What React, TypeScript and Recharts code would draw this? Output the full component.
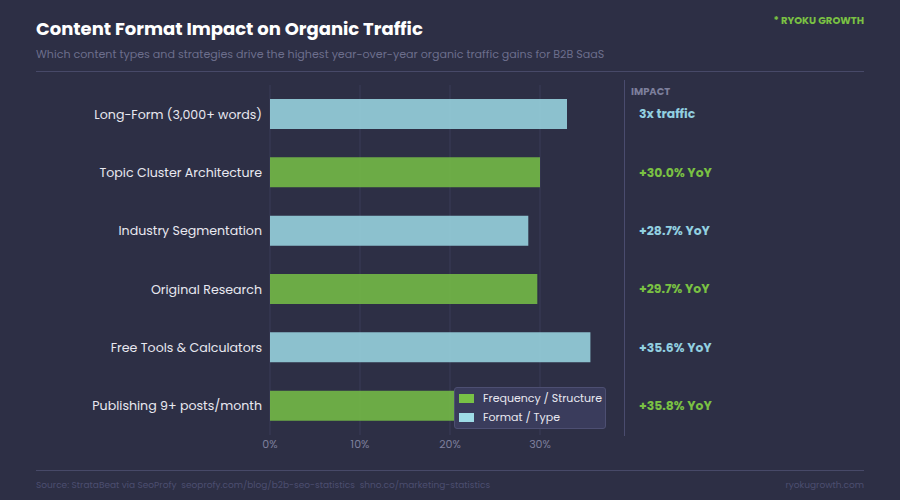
import { BarChart, Bar, XAxis, YAxis, CartesianGrid, Cell } from "recharts";

const categories = [
  "Long-Form (3,000+ words)",
  "Topic Cluster Architecture",
  "Industry Segmentation",
  "Original Research",
  "Free Tools & Calculators",
  "Publishing 9+ posts/month",
];
const trafficGain = [33, 30.0, 28.7, 29.7, 35.6, 35.8];
const groups = ["format", "freq", "format", "freq", "format", "freq"];
const impactLabels = ["3x traffic", "+30.0% YoY", "+28.7% YoY", "+29.7% YoY", "+35.6% YoY", "+35.8% YoY"];
const xTicks = [0, 10, 20, 30];
const xMax = 38;

const FONT = "Poppins, 'Open Sans', sans-serif";
const BG = "#2d2f45";
const GREEN = "#78c146";
const BLUE = "#9edbe6";
const groupColor: Record<string, string> = { freq: GREEN, format: BLUE };
const legendItems = [
  { label: "Frequency / Structure", color: GREEN },
  { label: "Format / Type", color: BLUE },
];

const data = categories.map((name, i) => ({
  name,
  value: trafficGain[i],
  group: groups[i],
  impact: impactLabels[i],
}));

function ImpactTick(props: any) {
  const { y, payload, index } = props;
  const row = data[index] ?? data.find((d) => d.name === payload.value);
  return (
    <text x={639} y={y} dy={4} fill={row.group === "freq" ? "#7ac143" : "#92d0e0"} fontSize={12.4} fontWeight={700} fontFamily={FONT}>
      {row.impact}
    </text>
  );
}

// only draw grid lines at the labelled ticks (no line at the domain end)
function gridX(props: any) {
  const scale = props?.xAxis?.scale;
  const off = props?.offset ?? {};
  return xTicks.map((t) => {
    if (typeof scale === "function") return scale(t);
    if (scale && typeof scale.map === "function") return scale.map(t);
    return (off.left ?? 0) + (t / xMax) * (off.width ?? 0);
  });
}

export default function App() {
  return (
    <div style={{ position: "absolute", left: 0, top: 0, width: 900, height: 500, background: BG, fontFamily: FONT, overflow: "hidden" }}>
      <div style={{ position: "absolute", left: 36, top: 15, fontSize: 18, fontWeight: 700, color: "#ffffff" }}>
        Content Format Impact on Organic Traffic
      </div>
      <div style={{ position: "absolute", left: 36, top: 46, fontSize: 11.1, color: "#6c6e8c" }}>
        Which content types and strategies drive the highest year-over-year organic traffic gains for B2B SaaS
      </div>
      <div style={{ position: "absolute", right: 36, top: 13, fontSize: 10, fontWeight: 700, color: "#7ac143" }}>
        * RYOKU GROWTH
      </div>
      <div style={{ position: "absolute", left: 36, top: 71, width: 828, height: 1, background: "#474968" }} />

      <BarChart
        width={900}
        height={500}
        data={data}
        layout="vertical"
        margin={{ top: 85, right: 258, left: 0, bottom: 35 }}
        style={{ position: "absolute", left: 0, top: 0 }}
      >
        <CartesianGrid horizontal={false} stroke="#3b3d58" verticalCoordinatesGenerator={gridX} />
        <XAxis
          type="number"
          domain={[0, xMax]}
          ticks={xTicks}
          tickFormatter={(v) => `${v}%`}
          axisLine={false}
          tickLine={false}
          tickSize={0}
          tickMargin={5}
          height={30}
          tick={{ fill: "#7d7f9c", fontSize: 11, fontFamily: FONT }}
        />
        <YAxis
          yAxisId="left"
          type="category"
          dataKey="name"
          width={270}
          axisLine={false}
          tickLine={false}
          tickSize={0}
          tickMargin={8}
          tick={{ fill: "#e8e8f0", fontSize: 12.6, fontFamily: FONT }}
        />
        <YAxis
          yAxisId="right"
          orientation="right"
          type="category"
          dataKey="name"
          width={30}
          axisLine={false}
          tickLine={false}
          tick={<ImpactTick />}
        />
        <Bar yAxisId="left" dataKey="value" barSize={30} fillOpacity={0.85} isAnimationActive={false}>
          {data.map((d) => (
            <Cell key={d.name} fill={groupColor[d.group]} />
          ))}
        </Bar>
      </BarChart>

      <div style={{ position: "absolute", left: 624, top: 80, width: 1, height: 356, background: "#4a4c6e" }} />
      <div style={{ position: "absolute", left: 631, top: 84, fontSize: 10, fontWeight: 700, color: "#7d7f9c" }}>IMPACT</div>

      <div
        style={{
          position: "absolute",
          left: 454,
          top: 387,
          width: 152,
          height: 42,
          background: "#3a3c5c",
          border: "1px solid #4d4f72",
          borderRadius: 3,
          boxSizing: "border-box",
          padding: "1px 0 0 4px",
        }}
      >
        {legendItems.map((it) => (
          <div key={it.label} style={{ display: "flex", alignItems: "center", height: 19, fontSize: 11, color: "#e8e8f0" }}>
            <span style={{ display: "inline-block", width: 15, height: 9, background: it.color, marginRight: 9 }} />
            {it.label}
          </div>
        ))}
      </div>

      <div style={{ position: "absolute", left: 36, top: 470, width: 828, height: 1, background: "#474968" }} />
      <div style={{ position: "absolute", left: 36, top: 479, fontSize: 9, color: "#4c4e70", whiteSpace: "pre" }}>
        {"Source: StrataBeat via SeoProfy  seoprofy.com/blog/b2b-seo-statistics  shno.co/marketing-statistics"}
      </div>
      <div style={{ position: "absolute", right: 36, top: 479, fontSize: 9, color: "#4c4e70" }}>ryokugrowth.com</div>
    </div>
  );
}
